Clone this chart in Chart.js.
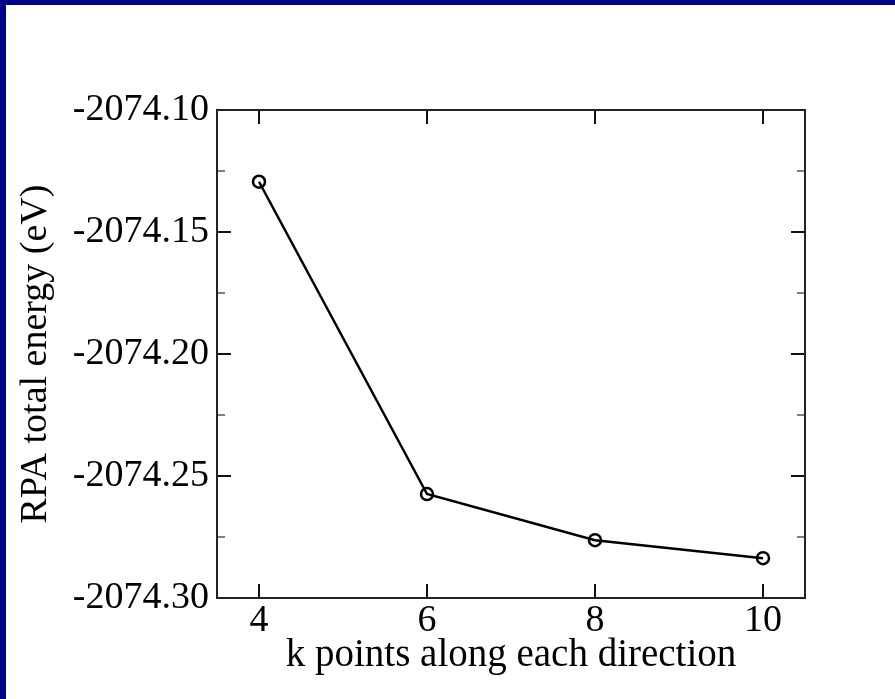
<!DOCTYPE html>
<html>
<head>
<meta charset="utf-8">
<script src="https://cdn.jsdelivr.net/npm/chart.js@4/dist/chart.umd.min.js"></script>
<style>
    html, body {
        margin: 0;
        padding: 0;
        background: #000088;
        width: 895px;
        height: 699px;
        overflow: hidden;
    }
    #energygraph {
        position: absolute;
        left: 6px;
        top: 5px;
        background: #ffffff;
    }
</style>
</head>
<body>
<canvas id="energygraph" width="889" height="694"></canvas>
<script>
const kPoints = [4, 6, 8, 10];
const energies = [-2074.1294, -2074.2574, -2074.2763, -2074.2837];
const xTicks = [4, 6, 8, 10];
const yTicks = [-2074.30, -2074.25, -2074.20, -2074.15, -2074.10];

const serif = "'Liberation Serif', 'Times New Roman', serif";

// frame + inward ticks, like the xmgrace original
const frameTicks = {
    id: "frameTicks",
    afterDatasetsDraw(chart) {
        const ctx = chart.ctx;
        const area = chart.chartArea;
        const x = chart.scales.x;
        const y = chart.scales.y;

        ctx.save();
        ctx.lineCap = "butt";

        ctx.strokeStyle = "#555555";
        ctx.lineWidth = 1.5;
        for (let i = 0; i < yTicks.length - 1; i++) {
            const py = y.getPixelForValue((yTicks[i] + yTicks[i + 1]) / 2);
            ctx.beginPath();
            ctx.moveTo(area.left, py);
            ctx.lineTo(area.left + 8, py);
            ctx.moveTo(area.right, py);
            ctx.lineTo(area.right - 8, py);
            ctx.stroke();
        }

        ctx.strokeStyle = "#111111";
        ctx.lineWidth = 2;
        yTicks.forEach((v) => {
            const py = y.getPixelForValue(v);
            ctx.beginPath();
            ctx.moveTo(area.left, py);
            ctx.lineTo(area.left + 14, py);
            ctx.moveTo(area.right, py);
            ctx.lineTo(area.right - 14, py);
            ctx.stroke();
        });
        xTicks.forEach((v) => {
            const px = x.getPixelForValue(v);
            ctx.beginPath();
            ctx.moveTo(px, area.bottom);
            ctx.lineTo(px, area.bottom - 14);
            ctx.moveTo(px, area.top);
            ctx.lineTo(px, area.top + 14);
            ctx.stroke();
        });

        ctx.strokeStyle = "#222222";
        ctx.lineWidth = 2;
        ctx.strokeRect(area.left, area.top, area.right - area.left, area.bottom - area.top);
        ctx.restore();
    },
};

const ctx = document.getElementById("energygraph").getContext("2d");

const data = {
    datasets: [
        {
            label: "RPA total energy",
            data: kPoints.map((k, i) => ({ x: k, y: energies[i] })),
            borderColor: "#000000",
            borderWidth: 2.5,
            pointRadius: 6,
            pointBorderWidth: 2.5,
            pointBorderColor: "#000000",
            pointBackgroundColor: "rgba(0,0,0,0)",
            tension: 0,
        },
    ],
};

const config = {
    type: "line",
    data: data,
    options: {
        responsive: false,
        devicePixelRatio: 1,
        animation: false,
        layout: {
            padding: { top: 105, right: 90, left: 0, bottom: 0 },
        },
        plugins: {
            legend: { display: false },
            tooltip: { enabled: false },
        },
        scales: {
            x: {
                type: "linear",
                min: 3.5,
                max: 10.5,
                afterBuildTicks: (scale) => {
                    scale.ticks = xTicks.map((v) => ({ value: v }));
                },
                afterFit: (scale) => {
                    scale.height = 101;
                },
                grid: { display: false, drawTicks: false },
                border: { display: false },
                ticks: {
                    padding: 0,
                    color: "#000000",
                    font: { family: serif, size: 38 },
                    maxRotation: 0,
                },
                title: {
                    display: true,
                    text: "k points along each direction",
                    color: "#000000",
                    font: { family: serif, size: 39 },
                    padding: { top: 0, bottom: 20 },
                },
            },
            y: {
                type: "linear",
                min: -2074.30,
                max: -2074.10,
                afterBuildTicks: (scale) => {
                    scale.ticks = yTicks.map((v) => ({ value: v }));
                },
                afterFit: (scale) => {
                    scale.width = 211;
                },
                grid: { display: false, drawTicks: false },
                border: { display: false },
                ticks: {
                    padding: 8,
                    color: "#000000",
                    font: { family: serif, size: 38 },
                    callback: (v) => Number(v).toFixed(2),
                },
                title: {
                    display: true,
                    text: "RPA total energy (eV)",
                    color: "#000000",
                    font: { family: serif, size: 38 },
                    padding: { top: 7, bottom: 0 },
                },
            },
        },
    },
    plugins: [frameTicks],
};

const chart = new Chart(ctx, config);
</script>
</body>
</html>
